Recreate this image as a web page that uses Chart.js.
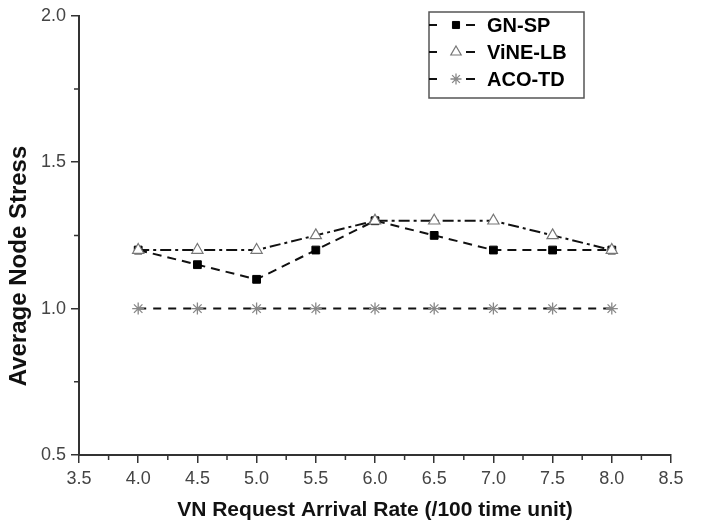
<!DOCTYPE html>
<html>
<head>
<meta charset="utf-8">
<script src="https://cdn.jsdelivr.net/npm/chart.js@4.4.1/dist/chart.umd.min.js"></script>
<style>
  html, body { margin: 0; padding: 0; background: #fff; }
  #wrap { width: 702px; height: 526px; }
</style>
</head>
<body>
<div id="wrap"><canvas id="stressChart" width="702" height="526"></canvas></div>
<script>
// data
const arrivalRates = [4.0, 4.5, 5.0, 5.5, 6.0, 6.5, 7.0, 7.5, 8.0];
const gnSp = [1.2, 1.15, 1.1, 1.2, 1.3, 1.25, 1.2, 1.2, 1.2];
const vineLb = [1.2, 1.2, 1.2, 1.25, 1.3, 1.3, 1.3, 1.25, 1.2];
const acoTd = [1.0, 1.0, 1.0, 1.0, 1.0, 1.0, 1.0, 1.0, 1.0];
const seriesNames = ['GN-SP', 'ViNE-LB', 'ACO-TD'];
const yTitle = 'Average Node Stress';
const xTitle = 'VN Request Arrival Rate (/100 time unit)';

const axisColor = '#333';
const fontFamily = 'Liberation Sans, Arial, sans-serif';
const labelFont = { family: fontFamily, size: 18 };

const toPoints = (vals) => vals.map((v, i) => ({ x: arrivalRates[i], y: v }));

// minor ticks halfway between the labelled ones
const minorTicks = {
  id: 'minorTicks',
  afterDraw(chart) {
    const { ctx, scales: { x, y } } = chart;
    ctx.save();
    ctx.strokeStyle = axisColor;
    ctx.lineWidth = 1.5;
    ctx.beginPath();
    for (let v = 3.75; v < 8.5; v += 0.5) {
      const px = x.getPixelForValue(v);
      ctx.moveTo(px, x.top);
      ctx.lineTo(px, x.top + 5);
    }
    for (let v = 0.75; v < 2.0; v += 0.5) {
      const py = y.getPixelForValue(v);
      ctx.moveTo(y.right, py);
      ctx.lineTo(y.right - 5, py);
    }
    ctx.stroke();
    ctx.restore();
  }
};

// y title sits a bit below the middle of the axis in the original
const yAxisTitle = {
  id: 'yAxisTitle',
  afterDraw(chart) {
    const ctx = chart.ctx;
    ctx.save();
    ctx.translate(19, 266);
    ctx.rotate(-Math.PI / 2);
    ctx.fillStyle = '#111';
    ctx.font = 'bold 24px ' + fontFamily;
    ctx.textAlign = 'center';
    ctx.textBaseline = 'middle';
    ctx.fillText(yTitle, 0, 0);
    ctx.restore();
  }
};

// boxed legend in the top right, like the original figure
const boxLegend = {
  id: 'boxLegend',
  afterDraw(chart) {
    const ctx = chart.ctx;
    const left = 429, top = 12, right = 584, bottom = 98;
    ctx.save();
    ctx.fillStyle = '#fff';
    ctx.fillRect(left, top, right - left, bottom - top);
    ctx.strokeStyle = '#555';
    ctx.lineWidth = 1.5;
    ctx.strokeRect(left, top, right - left, bottom - top);

    chart.data.datasets.forEach((ds, i) => {
      const cy = 25 + i * 27;
      ctx.strokeStyle = ds.borderColor;
      ctx.lineWidth = 2;
      ctx.setLineDash([]);
      ctx.beginPath();
      ctx.moveTo(left, cy); ctx.lineTo(left + 8, cy);
      ctx.moveTo(left + 37, cy); ctx.lineTo(left + 46, cy);
      ctx.stroke();
      // drawPoint uses whatever fill/stroke is set on the context
      ctx.fillStyle = ds.pointBackgroundColor;
      ctx.strokeStyle = ds.pointBorderColor;
      ctx.lineWidth = ds.pointBorderWidth;
      Chart.helpers.drawPoint(ctx, {
        pointStyle: ds.pointStyle,
        radius: ds.pointRadius - 0.5,
        borderWidth: ds.pointBorderWidth
      }, left + 27, cy);
      ctx.fillStyle = '#000';
      ctx.font = 'bold 20px ' + fontFamily;
      ctx.textBaseline = 'middle';
      ctx.textAlign = 'left';
      ctx.fillText(ds.label, 487, cy + 1);
    });
    ctx.restore();
  }
};

new Chart(document.getElementById('stressChart'), {
  type: 'line',
  data: {
    datasets: [
      {
        label: seriesNames[0],
        data: toPoints(gnSp),
        order: 1,
        borderColor: '#111',
        borderWidth: 2,
        borderDash: [9, 6],
        pointStyle: 'rect',
        pointRadius: 5.5,
        pointBackgroundColor: '#000',
        pointBorderColor: '#000',
        pointBorderWidth: 1
      },
      {
        label: seriesNames[1],
        data: toPoints(vineLb),
        order: 0,
        borderColor: '#111',
        borderWidth: 2,
        borderDash: [11, 4, 3, 4],
        pointStyle: 'triangle',
        pointRadius: 6.5,
        pointBackgroundColor: '#fff',
        pointBorderColor: '#777',
        pointBorderWidth: 1.2
      },
      {
        label: seriesNames[2],
        data: toPoints(acoTd),
        order: 2,
        borderColor: '#111',
        borderWidth: 2,
        borderDash: [8, 7],
        pointStyle: 'star',
        pointRadius: 6,
        pointBackgroundColor: '#fff',
        pointBorderColor: '#888',
        pointBorderWidth: 1.3
      }
    ]
  },
  options: {
    responsive: false,
    animation: false,
    layout: { padding: { top: 14, right: 31, left: 0, bottom: 0 } },
    plugins: {
      legend: { display: false },
      tooltip: { enabled: false }
    },
    scales: {
      x: {
        type: 'linear',
        min: 3.5,
        max: 8.5,
        afterFit: (scale) => { scale.height = 71; },
        border: { color: axisColor, width: 2 },
        grid: { drawOnChartArea: false, drawTicks: true, tickLength: 8, color: axisColor, lineWidth: 1.5 },
        ticks: {
          stepSize: 0.5,
          color: '#444',
          font: labelFont,
          padding: 5,
          maxRotation: 0,
          callback: (v) => v.toFixed(1)
        },
        title: {
          display: true,
          text: xTitle,
          color: '#111',
          font: { family: fontFamily, size: 21, weight: 'bold' },
          padding: { top: 0, bottom: 3 }
        }
      },
      y: {
        min: 0.5,
        max: 2.0,
        afterFit: (scale) => { scale.width = 79; },
        border: { color: axisColor, width: 2 },
        grid: { drawOnChartArea: false, drawTicks: true, tickLength: 8, color: axisColor, lineWidth: 1.5 },
        ticks: {
          stepSize: 0.5,
          color: '#444',
          font: labelFont,
          padding: 5,
          callback: (v) => v.toFixed(1)
        }
      }
    }
  },
  plugins: [minorTicks, yAxisTitle, boxLegend]
});
</script>
</body>
</html>
